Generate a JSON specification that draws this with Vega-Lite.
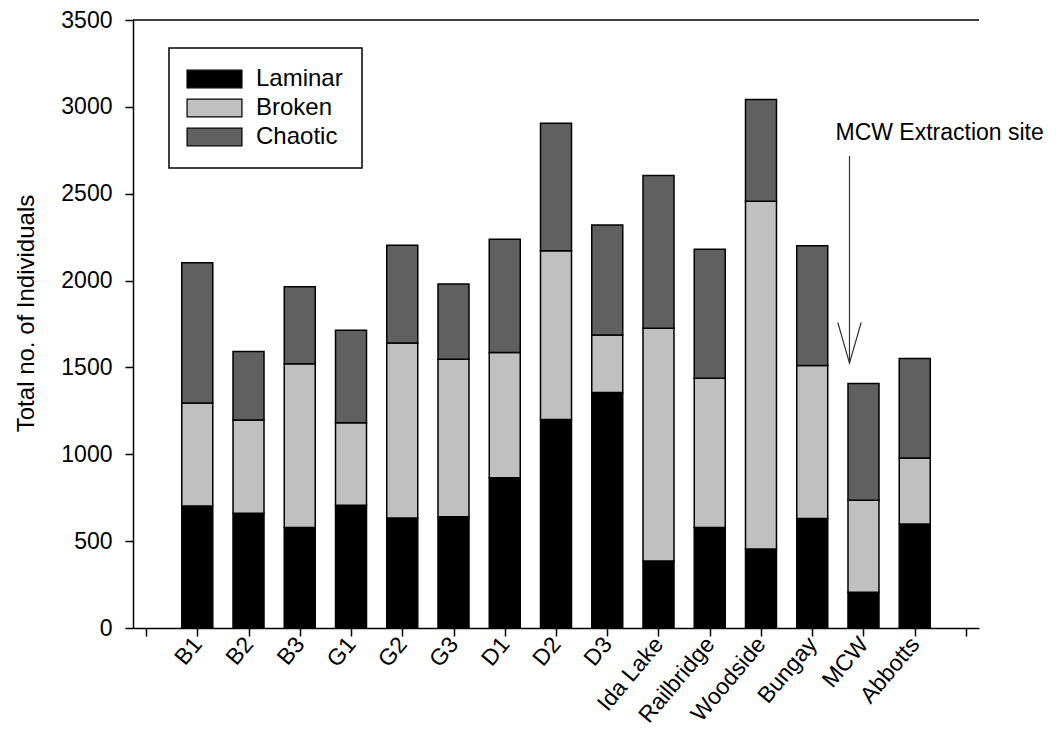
{
  "$schema": "https://vega.github.io/schema/vega-lite/v6.json",
  "width": 846,
  "height": 608,
  "autosize": {"type": "none"},
  "padding": {"left": 133, "top": 20, "right": 79, "bottom": 105},
  "background": "white",
  "config": {
    "font": "Liberation Sans",
    "view": {"stroke": null},
    "axis": {
      "domainColor": "black",
      "domainWidth": 1.5,
      "tickColor": "black",
      "tickWidth": 1.5,
      "tickSize": 8,
      "labelColor": "black",
      "titleColor": "black",
      "grid": false
    }
  },
  "datasets": {
    "counts": [
      {"site": "B1", "flow": "Laminar", "count": 702},
      {"site": "B1", "flow": "Broken", "count": 593},
      {"site": "B1", "flow": "Chaotic", "count": 807},
      {"site": "B2", "flow": "Laminar", "count": 660},
      {"site": "B2", "flow": "Broken", "count": 537},
      {"site": "B2", "flow": "Chaotic", "count": 395},
      {"site": "B3", "flow": "Laminar", "count": 578},
      {"site": "B3", "flow": "Broken", "count": 943},
      {"site": "B3", "flow": "Chaotic", "count": 444},
      {"site": "G1", "flow": "Laminar", "count": 707},
      {"site": "G1", "flow": "Broken", "count": 475},
      {"site": "G1", "flow": "Chaotic", "count": 532},
      {"site": "G2", "flow": "Laminar", "count": 633},
      {"site": "G2", "flow": "Broken", "count": 1007},
      {"site": "G2", "flow": "Chaotic", "count": 564},
      {"site": "G3", "flow": "Laminar", "count": 640},
      {"site": "G3", "flow": "Broken", "count": 907},
      {"site": "G3", "flow": "Chaotic", "count": 433},
      {"site": "D1", "flow": "Laminar", "count": 865},
      {"site": "D1", "flow": "Broken", "count": 721},
      {"site": "D1", "flow": "Chaotic", "count": 652},
      {"site": "D2", "flow": "Laminar", "count": 1200},
      {"site": "D2", "flow": "Broken", "count": 972},
      {"site": "D2", "flow": "Chaotic", "count": 733},
      {"site": "D3", "flow": "Laminar", "count": 1356},
      {"site": "D3", "flow": "Broken", "count": 330},
      {"site": "D3", "flow": "Chaotic", "count": 634},
      {"site": "Ida Lake", "flow": "Laminar", "count": 385},
      {"site": "Ida Lake", "flow": "Broken", "count": 1340},
      {"site": "Ida Lake", "flow": "Chaotic", "count": 880},
      {"site": "Railbridge", "flow": "Laminar", "count": 578},
      {"site": "Railbridge", "flow": "Broken", "count": 860},
      {"site": "Railbridge", "flow": "Chaotic", "count": 743},
      {"site": "Woodside", "flow": "Laminar", "count": 455},
      {"site": "Woodside", "flow": "Broken", "count": 2001},
      {"site": "Woodside", "flow": "Chaotic", "count": 587},
      {"site": "Bungay", "flow": "Laminar", "count": 631},
      {"site": "Bungay", "flow": "Broken", "count": 880},
      {"site": "Bungay", "flow": "Chaotic", "count": 689},
      {"site": "MCW", "flow": "Laminar", "count": 206},
      {"site": "MCW", "flow": "Broken", "count": 529},
      {"site": "MCW", "flow": "Chaotic", "count": 672},
      {"site": "Abbotts", "flow": "Laminar", "count": 599},
      {"site": "Abbotts", "flow": "Broken", "count": 380},
      {"site": "Abbotts", "flow": "Chaotic", "count": 572}
    ],
    "notes": [
      {"site": "MCW", "note": "MCW Extraction site"}
    ],
    "frame": [
      {"edge": "top"}
    ]
  },
  "layer": [
    {
      "data": {"name": "counts"},
      "transform": [
        {"calculate": "indexof(['Laminar', 'Broken', 'Chaotic'], datum.flow)", "as": "stack_rank"}
      ],
      "mark": {"type": "bar", "width": 31, "stroke": "black", "strokeWidth": 1.5},
      "encoding": {
        "x": {
          "field": "site",
          "type": "nominal",
          "scale": {
            "type": "point",
            "domain": [" ", "B1", "B2", "B3", "G1", "G2", "G3", "D1", "D2", "D3", "Ida Lake", "Railbridge", "Woodside", "Bungay", "MCW", "Abbotts", "  "],
            "padding": 0.254
          },
          "axis": {
            "title": null,
            "labelAngle": -50,
            "labelAlign": "right",
            "labelBaseline": "middle",
            "labelFontSize": 23,
            "labelPadding": 4
          }
        },
        "y": {
          "field": "count",
          "type": "quantitative",
          "stack": "zero",
          "scale": {"domain": [0, 3500], "nice": false, "zero": true},
          "axis": {
            "values": [0, 500, 1000, 1500, 2000, 2500, 3000, 3500],
            "format": "d",
            "labelFontSize": 23,
            "labelPadding": 13,
            "title": "Total no. of Individuals",
            "titleFontSize": 24,
            "titleFontWeight": "normal",
            "titleBaseline": "alphabetic",
            "titleX": -100,
            "titleY": 293
          }
        },
        "color": {
          "field": "flow",
          "type": "nominal",
          "scale": {
            "domain": ["Laminar", "Broken", "Chaotic"],
            "range": ["#000000", "#c0c0c0", "#606060"]
          },
          "legend": {
            "orient": "none",
            "legendX": 36,
            "legendY": 28,
            "title": null,
            "padding": 19,
            "strokeColor": "black",
            "fillColor": "white",
            "symbolType": "M-1.44,-0.98H4.66V0.98H-1.44Z",
            "symbolSize": 324,
            "symbolStrokeColor": "black",
            "symbolStrokeWidth": 1.2,
            "symbolOpacity": 1,
            "labelFontSize": 24,
            "labelColor": "black",
            "labelOffset": 44,
            "rowPadding": 5,
            "encode": {"legend": {"update": {"strokeWidth": {"value": 1.5}}}}
          }
        },
        "order": {"field": "stack_rank", "type": "quantitative", "sort": "ascending"}
      }
    },
    {
      "data": {"name": "frame"},
      "mark": {"type": "rule", "stroke": "black", "strokeWidth": 1.5},
      "encoding": {"y": {"datum": 3500}}
    },
    {
      "data": {"name": "notes"},
      "mark": {"type": "rule", "stroke": "#333333", "strokeWidth": 1.2, "xOffset": -14},
      "encoding": {
        "x": {"field": "site", "type": "nominal"},
        "y": {"datum": 2717},
        "y2": {"datum": 1525}
      }
    },
    {
      "data": {"name": "notes"},
      "mark": {
        "type": "point",
        "shape": "M-0.576,-2L0,0L0.576,-2",
        "size": 1648,
        "filled": false,
        "stroke": "#333333",
        "strokeWidth": 1.2,
        "opacity": 1,
        "xOffset": -14
      },
      "encoding": {
        "x": {"field": "site", "type": "nominal"},
        "y": {"datum": 1525}
      }
    },
    {
      "data": {"name": "notes"},
      "mark": {
        "type": "text",
        "align": "left",
        "baseline": "alphabetic",
        "fontSize": 23,
        "color": "black",
        "dx": -28
      },
      "encoding": {
        "x": {"field": "site", "type": "nominal"},
        "y": {"datum": 2809},
        "text": {"field": "note"}
      }
    }
  ]
}
